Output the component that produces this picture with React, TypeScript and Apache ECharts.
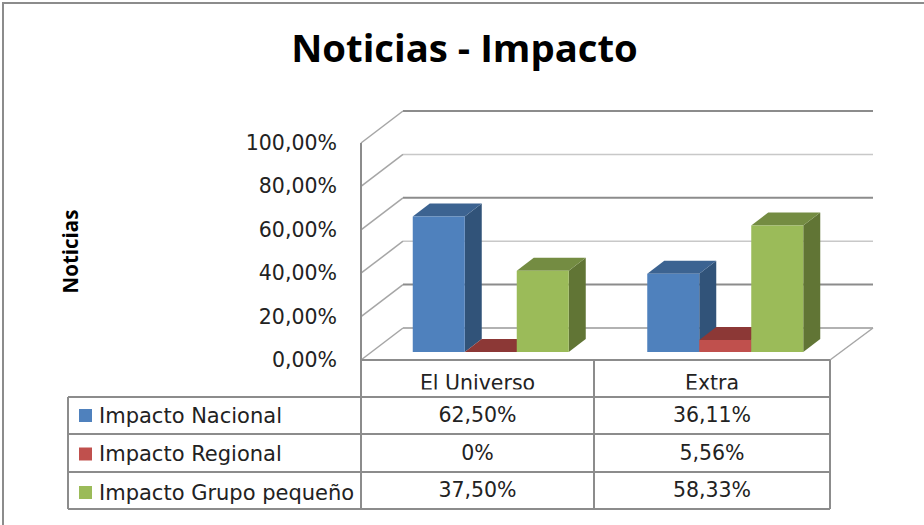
import React, { useEffect, useRef } from "react";
import * as echarts from "echarts";

const categories = ["El Universo", "Extra"];
const seriesNames = ["Impacto Nacional", "Impacto Regional", "Impacto Grupo pequeño"];
const nacional = [62.5, 36.11];
const regional = [0, 5.56];
const grupo = [37.5, 58.33];
const gridTicks = [0, 20, 40, 60, 80, 100];
const frontColors = ["#4F81BD", "#C0504D", "#9BBB59"];
const topColors = ["#3C6391", "#8C3836", "#748C42"];
const sideColors = ["#315379", "#7A302E", "#617535"];
const FONT = "'DejaVu Sans'";
const GRAY = "#8C8C8C";

const fmtTable = (v: number) => (v === 0 ? "0%" : v.toFixed(2).replace(".", ",") + "%");
const fmtAxis = (v: number) => v.toFixed(2).replace(".", ",") + "%";

const wallDX = 42, wallDY = -32;
const barDX = 17, barDY = -13, barW = 52, floorLift = 8, barShift = 12.5;

function renderWall(params: any, api: any) {
  const v = api.value(1);
  const y = api.coord([0, v])[1];
  const cs = params.coordSys;
  const left = cs.x, right = cs.x + cs.width;
  const strong = v === 20 || v === 60 || v === 100;
  const children: any[] = [
    { type: "line", shape: { x1: left + wallDX, y1: y + wallDY, x2: right + wallDX + 1, y2: y + wallDY },
      style: { stroke: v === 0 ? "#999999" : strong ? GRAY : "#C8C8C8", lineWidth: strong ? 2 : 1.5 } },
    { type: "line", shape: { x1: left, y1: y, x2: left + wallDX, y2: y + wallDY },
      style: { stroke: "#A6A6A6", lineWidth: 1.5 } },
  ];
  if (v === 0) {
    children.push({ type: "line", shape: { x1: right, y1: y, x2: right + wallDX + 1, y2: y + wallDY },
      style: { stroke: "#A6A6A6", lineWidth: 1.5 } });
  }
  return { type: "group", children };
}

function makeBarRenderer(idx: number) {
  return (_params: any, api: any) => {
    const cat = api.value(0), val = api.value(1);
    const center = api.coord([cat, 0])[0];
    const yBase = api.coord([cat, 0])[1] - floorLift;
    const yTop = api.coord([cat, val])[1] - floorLift;
    const x0 = center + barShift + (idx - 1.5) * barW;
    const x1 = x0 + barW;
    const children: any[] = [
      { type: "polygon", shape: { points: [[x1, yTop], [x1 + barDX, yTop + barDY], [x1 + barDX, yBase + barDY], [x1, yBase]] },
        style: { fill: sideColors[idx] } },
      { type: "polygon", shape: { points: [[x0, yTop], [x1, yTop], [x1 + barDX, yTop + barDY], [x0 + barDX, yTop + barDY]] },
        style: { fill: topColors[idx] } },
    ];
    if (yBase > yTop) {
      children.push({ type: "rect", shape: { x: x0, y: yTop, width: barW, height: yBase - yTop },
        style: { fill: frontColors[idx] } });
    }
    return { type: "group", children };
  };
}

const tableValues = [nacional, regional, grupo];
const colX = [68, 361, 594, 830];
const rowY = [360, 397, 434, 472, 509];
const colCenters = [477.5, 712];
const rowCenters = [415, 453, 490];

function tableGraphics() {
  const line = (x1: number, y1: number, x2: number, y2: number) => ({
    type: "line", shape: { x1, y1, x2, y2 }, style: { stroke: GRAY, lineWidth: 2 }, z: 10,
  });
  const text = (x: number, y: number, t: string) => ({
    type: "text", x, y, z: 11,
    style: { text: t, fill: "#222", font: `20.5px ${FONT}`, align: "center", verticalAlign: "middle" },
  });
  const out: any[] = [];
  // chart outer frame (left and top only are visible)
  out.push({ type: "polyline", shape: { points: [[3, 525], [3, 3], [924, 3]] },
    style: { stroke: GRAY, lineWidth: 2, fill: "none" }, z: 1 });
  out.push(line(colX[1], 143, colX[1], rowY[4]));
  out.push(line(colX[1], rowY[0], colX[3], rowY[0]));
  out.push(line(colX[2], rowY[0], colX[2], rowY[4]));
  out.push(line(colX[3], rowY[0], colX[3], rowY[4]));
  out.push(line(colX[0], rowY[1], colX[0], rowY[4]));
  for (let i = 1; i < rowY.length; i++) out.push(line(colX[0], rowY[i], colX[3], rowY[i]));
  categories.forEach((c, i) => out.push(text(colCenters[i], 383, c)));
  // the reference's header labels are cut off just above their baseline
  out.push({ type: "rect", shape: { x: 363, y: 389.5, width: 229, height: 6 }, style: { fill: "#fff" }, z: 12 });
  out.push({ type: "rect", shape: { x: 596, y: 389.5, width: 232, height: 6 }, style: { fill: "#fff" }, z: 12 });
  tableValues.forEach((vals, r) =>
    vals.forEach((v, c) => out.push(text(colCenters[c], rowCenters[r], fmtTable(v)))));
  return out;
}

export default function App() {
  const ref = useRef<HTMLDivElement>(null);
  useEffect(() => {
    const chart = echarts.init(ref.current!, undefined, { renderer: "svg" });
    chart.setOption({
      animation: false,
      backgroundColor: "#fff",
      title: {
        text: "Noticias - Impacto", left: 459.5, top: 23, textAlign: "center",
        textStyle: { fontFamily: "'Open Sans'", fontWeight: "bold", fontSize: 38.3, color: "#000" },
      },
      grid: { left: 361, top: 143, width: 469, height: 217 },
      xAxis: { type: "category", data: categories, axisLine: { show: false }, axisTick: { show: false }, axisLabel: { show: false }, splitLine: { show: false } },
      yAxis: {
        type: "value", min: 0, max: 100, interval: 20,
        name: "Noticias", nameLocation: "middle", nameGap: 281, nameRotate: 90,
        nameTextStyle: { fontFamily: "'Open Sans'", fontWeight: "bold", fontSize: 20.5, color: "#000" },
        axisLine: { show: false }, axisTick: { show: false }, splitLine: { show: false },
        axisLabel: { formatter: fmtAxis, margin: 24, fontFamily: FONT, fontSize: 20.5, color: "#222" },
      },
      legend: {
        orient: "vertical", left: 74, top: 400, itemWidth: 13, itemHeight: 13, itemGap: 17.5, icon: "rect",
        data: seriesNames, selectedMode: false,
        textStyle: { fontFamily: FONT, fontSize: 21, color: "#222", padding: [0, 0, 0, 2] },
      },
      graphic: tableGraphics(),
      series: [
        { type: "custom", name: "wall", z: 1, silent: true, encode: { x: 0, y: 1 },
          data: gridTicks.map((t) => [0, t]), renderItem: renderWall },
        ...seriesNames.map((name, i) => ({
          type: "custom", name, z: 2 + i, encode: { x: 0, y: 1 },
          itemStyle: { color: frontColors[i] },
          data: tableValues[i].map((v, c) => [c, v]),
          renderItem: makeBarRenderer(i),
        })),
      ],
    });
    return () => chart.dispose();
  }, []);
  return <div ref={ref} style={{ width: 924, height: 525, position: "absolute", left: 0, top: 0 }} />;
}
